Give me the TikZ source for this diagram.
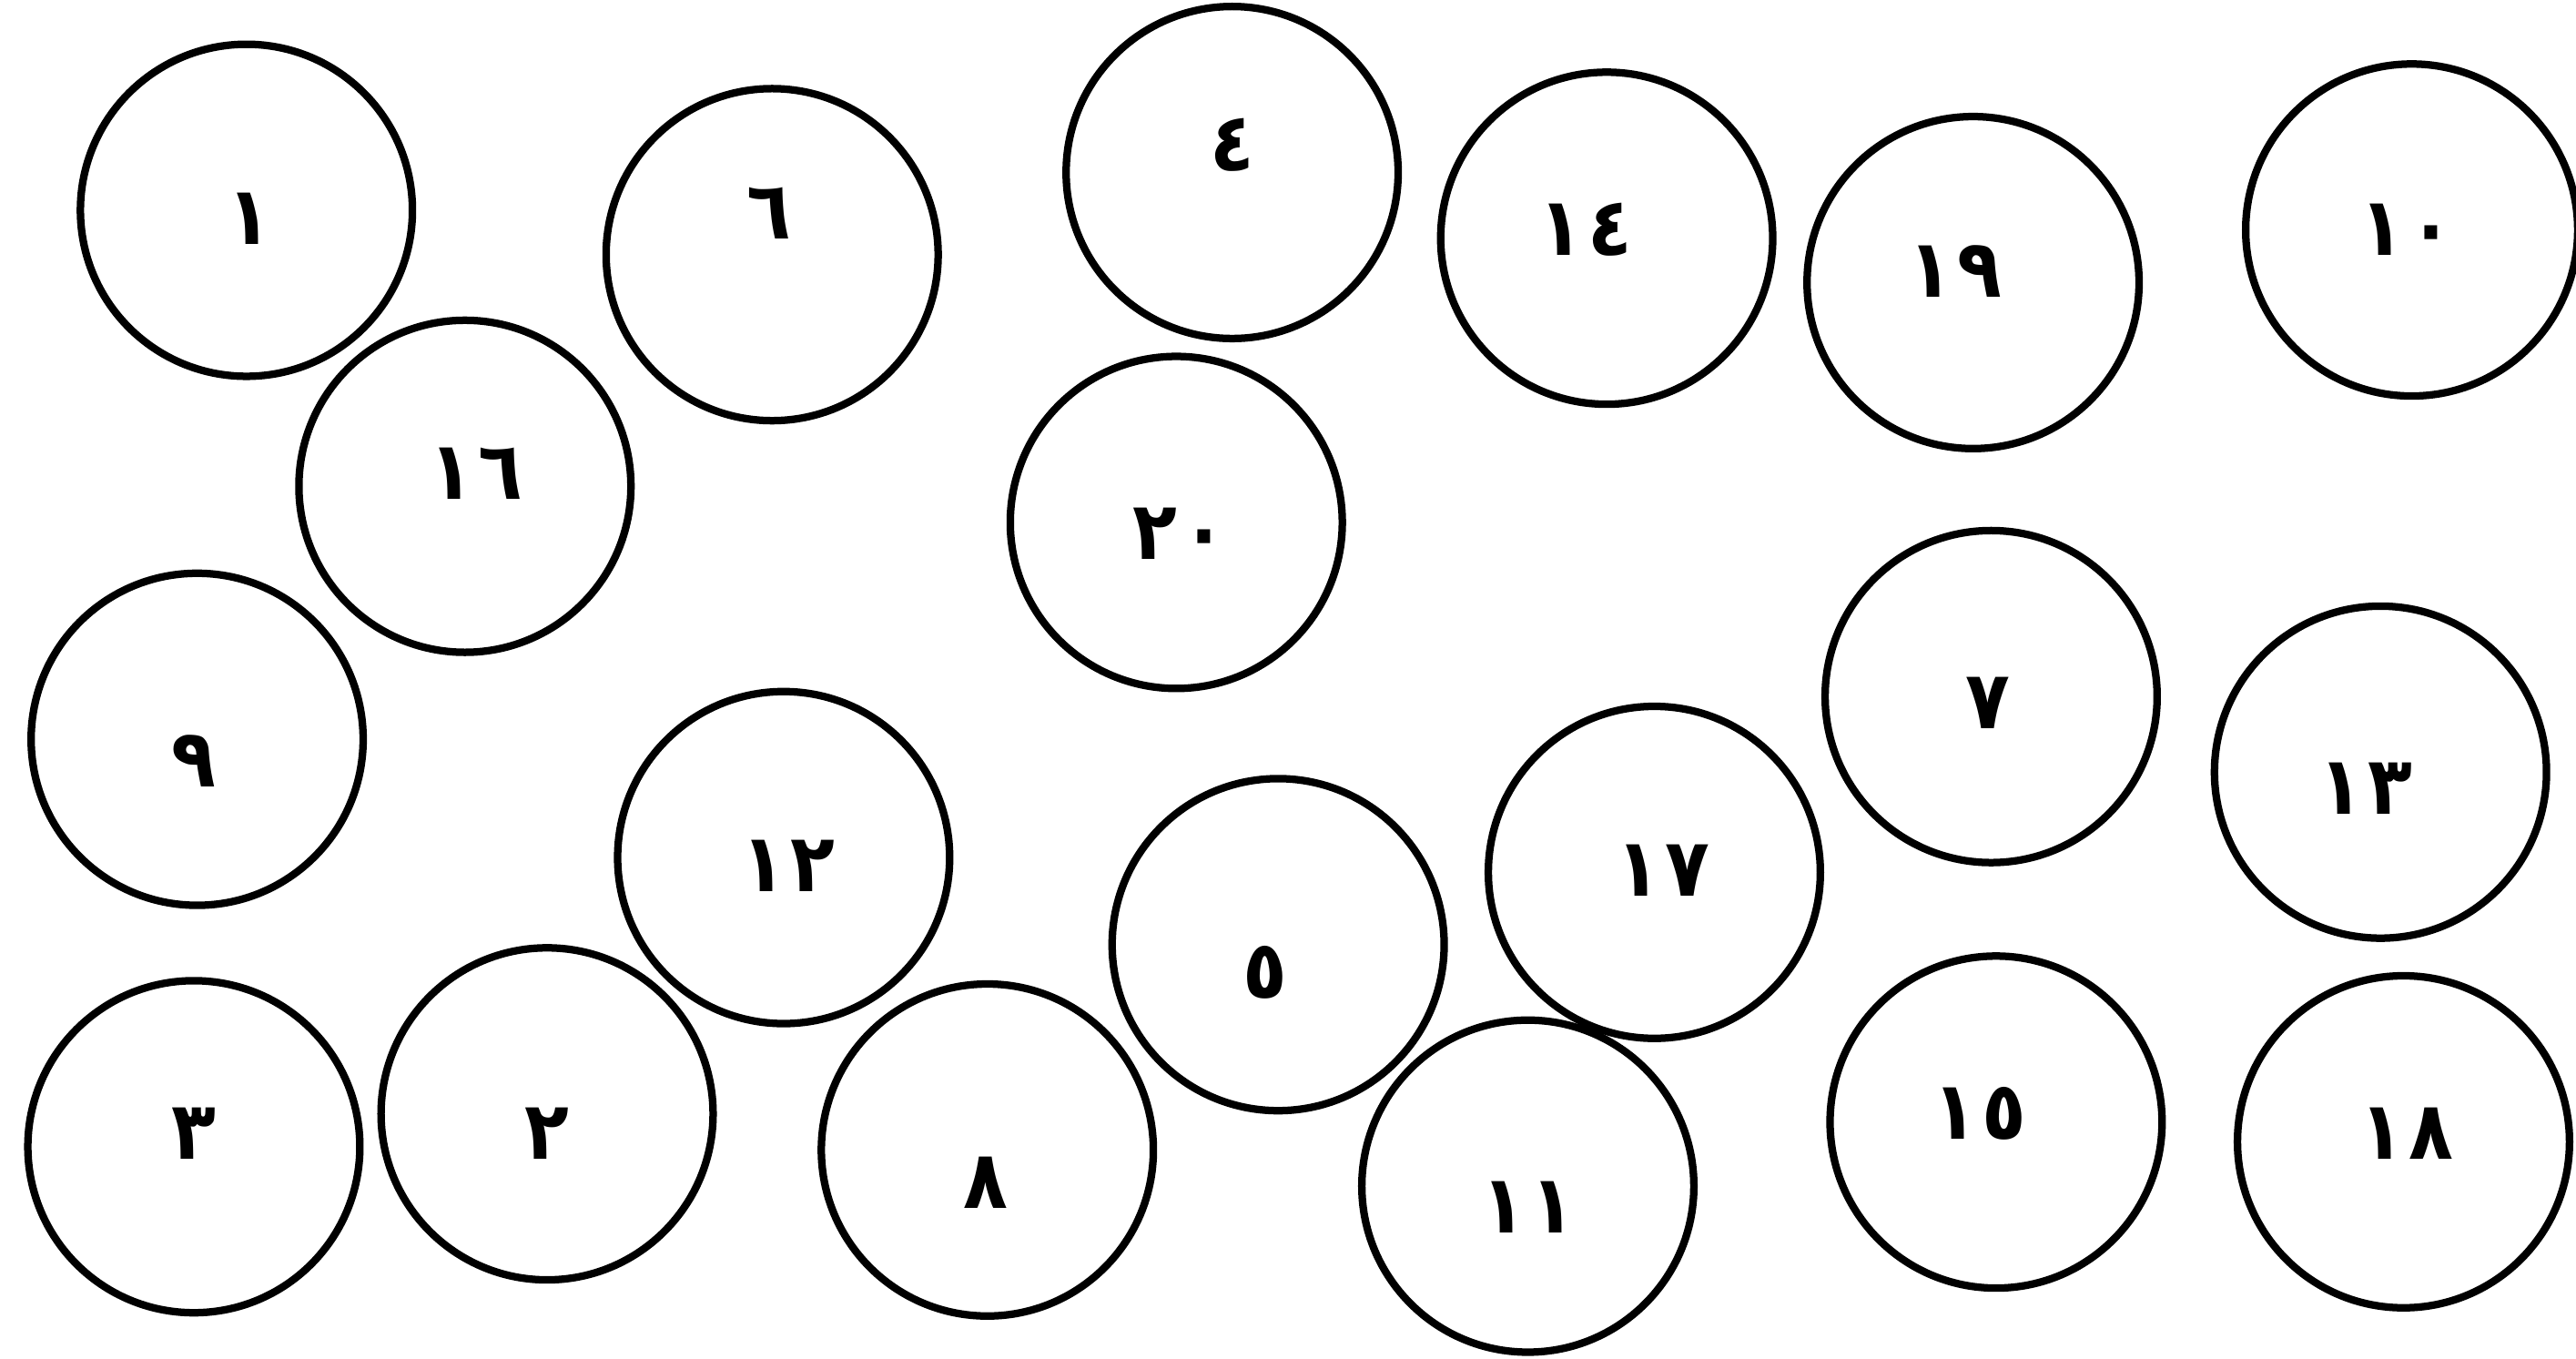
\documentclass[tikz,border=0pt]{standalone}
\usepackage{fontspec}
\newfontfamily\arabicfont[LetterSpace=6]{DejaVu Sans Condensed}
\usetikzlibrary{positioning}

\begin{document}
\begin{tikzpicture}[x=0.01cm,y=-0.01cm,
  ball/.style={draw,circle,line width=1.3pt,minimum size=2.02cm,inner sep=0pt},
  num/.style={font=\arabicfont\bfseries\fontsize{14}{14}\selectfont,inner sep=0pt}]
\useasboundingbox (0,0) rectangle (1568,827);
% circles
\node[ball] (c1) at (150,128) {};
\node[ball] (c6) at (470,155) {};
\node[ball] (c4) at (750,105) {};
\node[ball] (c14) at (978,145) {};
\node[ball] (c19) at (1201,172) {};
\node[ball] (c10) at (1468,140) {};
\node[ball] (c16) at (283,296) {};
\node[ball] (c20) at (716,318) {};
\node[ball] (c9) at (120,450) {};
\node[ball] (c7) at (1212,424) {};
\node[ball] (c13) at (1449,470) {};
\node[ball] (c12) at (477,522) {};
\node[ball] (c17) at (1007,531) {};
\node[ball] (c5) at (778,575) {};
\node[ball] (c3) at (118,698) {};
\node[ball] (c2) at (333,678) {};
\node[ball] (c8) at (601,700) {};
\node[ball] (c11) at (930,722) {};
\node[ball] (c15) at (1215,683) {};
\node[ball] (c18) at (1463,695) {};
% numbers
\node[num] (n1) at (152,133) {١};
\node[num] (n6) at (468,130) {٦};
\node[num] (n4) at (750,88) {٤};
\node[num] (n14) at (965,140) {١٤};
\node[num] (n19) at (1190,165) {١٩};
\node[num] (n10) at (1465,140) {١٠};
\node[num] (n16) at (290,288) {١٦};
\node[num] (n20) at (718,325) {٢٠};
\node[num] (n9) at (118,463) {٩};
\node[num] (n7) at (1210,428) {٧};
\node[num] (n13) at (1440,480) {١٣};
\node[num] (n12) at (480,527) {١٢};
\node[num] (n17) at (1012,530) {١٧};
\node[num] (n5) at (770,592) {٥};
\node[num] (n3) at (118,690) {٣};
\node[num] (n2) at (333,690) {٢};
\node[num] (n8) at (600,720) {٨};
\node[num] (n11) at (930,735) {١١};
\node[num] (n15) at (1205,678) {١٥};
\node[num] (n18) at (1465,690) {١٨};
\end{tikzpicture}
\end{document}
